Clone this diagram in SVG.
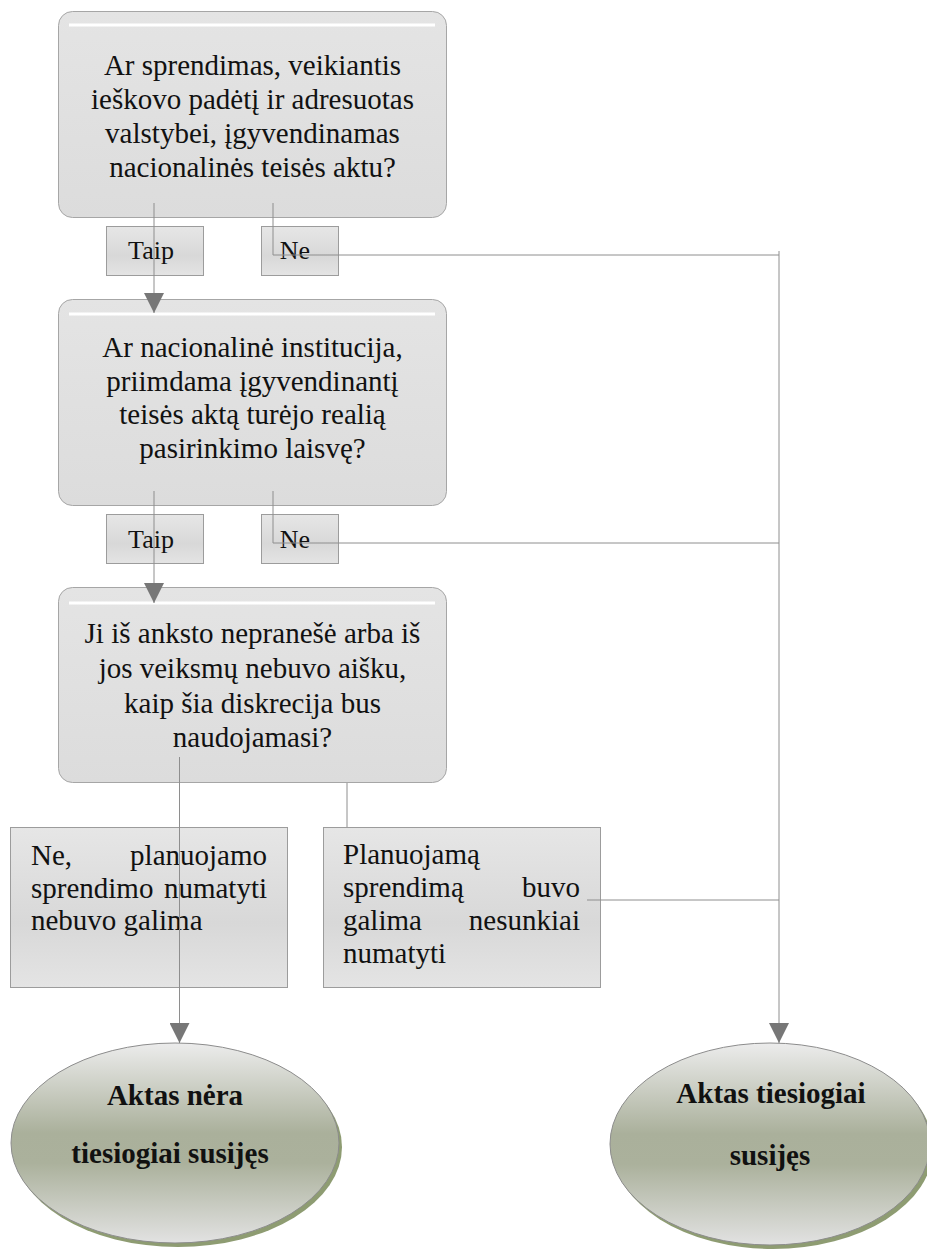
<svg xmlns="http://www.w3.org/2000/svg" width="927" height="1250" viewBox="0 0 927 1250">
<defs>
<linearGradient id="gBig" x1="0" y1="0" x2="0" y2="1">
<stop offset="0" stop-color="#e4e4e4"/>
<stop offset="1" stop-color="#dcdcdc"/>
</linearGradient>
<linearGradient id="gSmall" x1="0" y1="0" x2="0" y2="1">
<stop offset="0" stop-color="#e6e6e6"/>
<stop offset="0.6" stop-color="#d8d8d8"/>
<stop offset="1" stop-color="#e4e4e4"/>
</linearGradient>
<linearGradient id="gEll" x1="0" y1="0" x2="0" y2="1">
<stop offset="0" stop-color="#ececec"/>
<stop offset="0.45" stop-color="#aab09b"/>
<stop offset="0.6" stop-color="#abb19c"/>
<stop offset="1" stop-color="#e2e2e2"/>
</linearGradient>
<marker id="arr" markerWidth="20" markerHeight="20" refX="20" refY="10" orient="auto" markerUnits="userSpaceOnUse">
<path d="M0,0 L20,10 L0,20 z" fill="#777"/>
</marker>
</defs>
<style>
.conn{fill:none;stroke:#8e8e8e;stroke-width:1}
.big{fill:url(#gBig);stroke:#a6a6a6;stroke-width:1}
.small{fill:url(#gSmall);stroke:#9c9c9c;stroke-width:1}
.hl{stroke:#ffffff;stroke-width:3}
.ell{fill:url(#gEll);stroke:#8c8c8c;stroke-width:1}
.shadow{fill:#8e9c72}
.t{font-family:"Liberation Serif","Times New Roman",serif;font-size:29px;fill:#111}
.tc{text-anchor:middle}
.te{text-anchor:end}
.ts{font-family:"Liberation Serif","Times New Roman",serif;font-size:26px;fill:#111;text-anchor:middle}
.tb{font-family:"Liberation Serif","Times New Roman",serif;font-size:29px;font-weight:bold;fill:#111;text-anchor:middle}
</style>

<g id="q1">
<rect class="big" x="58.5" y="11.5" width="388" height="206" rx="14"/>
<line class="hl" x1="69" y1="25" x2="435" y2="25"/>
<text class="t tc" x="252.5" y="75">Ar sprendimas, veikiantis</text>
<text class="t tc" x="252.5" y="109">ieškovo padėtį ir adresuotas</text>
<text class="t tc" x="252.5" y="143">valstybei, įgyvendinamas</text>
<text class="t tc" x="252.5" y="177">nacionalinės teisės aktu?</text>
</g>

<g id="taip1">
<rect class="small" x="106.5" y="226.5" width="97" height="49"/>
<text class="ts" x="151" y="259">Taip</text>
</g>
<g id="ne1">
<rect class="small" x="261.5" y="226.5" width="77" height="49"/>
<text class="ts" x="295" y="259">Ne</text>
</g>

<g id="q2">
<rect class="big" x="58.5" y="299.5" width="388" height="206" rx="14"/>
<line class="hl" x1="69" y1="314" x2="435" y2="314"/>
<text class="t tc" x="252.5" y="357">Ar nacionalinė institucija,</text>
<text class="t tc" x="252.5" y="391">priimdama įgyvendinantį</text>
<text class="t tc" x="252.5" y="424">teisės aktą turėjo realią</text>
<text class="t tc" x="252.5" y="458">pasirinkimo laisvę?</text>
</g>

<g id="taip2">
<rect class="small" x="106.5" y="514.5" width="97" height="49"/>
<text class="ts" x="151" y="548">Taip</text>
</g>
<g id="ne2">
<rect class="small" x="261.5" y="514.5" width="77" height="49"/>
<text class="ts" x="295" y="548">Ne</text>
</g>

<g id="q3">
<rect class="big" x="58.5" y="587.5" width="388" height="195" rx="14"/>
<line class="hl" x1="69" y1="603" x2="435" y2="603"/>
<text class="t tc" x="252.5" y="643">Ji iš anksto nepranešė arba iš</text>
<text class="t tc" x="252.5" y="678">jos veiksmų nebuvo aišku,</text>
<text class="t tc" x="252.5" y="713">kaip šia diskrecija bus</text>
<text class="t tc" x="252.5" y="747">naudojamasi?</text>
</g>

<g id="ans-no">
<rect class="small" x="10.5" y="827.5" width="277" height="160"/>
<text class="t" x="31" y="865">Ne,</text>
<text class="t te" x="267" y="865">planuojamo</text>
<text class="t" x="31" y="898">sprendimo</text>
<text class="t te" x="267" y="898">numatyti</text>
<text class="t" x="31" y="930">nebuvo galima</text>
</g>

<g id="ans-yes">
<rect class="small" x="323.5" y="827.5" width="277" height="160"/>
<text class="t" x="343" y="864">Planuojamą</text>
<text class="t" x="343" y="897">sprendimą</text>
<text class="t te" x="580" y="897">buvo</text>
<text class="t" x="343" y="930">galima</text>
<text class="t te" x="580" y="930">nesunkiai</text>
<text class="t" x="343" y="963">numatyti</text>
</g>

<g id="res-not">
<ellipse class="shadow" cx="178" cy="1147" rx="164" ry="100"/>
<ellipse class="ell" cx="175" cy="1143" rx="164" ry="100"/>
<text class="tb" x="175" y="1105">Aktas nėra</text>
<text class="tb" x="170" y="1163">tiesiogiai susijęs</text>
</g>

<g id="res-yes">
<ellipse class="shadow" cx="773" cy="1148" rx="160" ry="101"/>
<ellipse class="ell" cx="770" cy="1144" rx="160" ry="101"/>
<text class="tb" x="771" y="1103">Aktas tiesiogiai</text>
<text class="tb" x="770" y="1165">susijęs</text>
</g>

<g id="connectors">
<path class="conn" d="M154,203 V313" marker-end="url(#arr)"/>
<path class="conn" d="M273,203 V255 H779"/>
<path class="conn" d="M154,491 V603" marker-end="url(#arr)"/>
<path class="conn" d="M273,491 V543 H779"/>
<path class="conn" d="M179.5,757 V1043" marker-end="url(#arr)"/>
<path class="conn" d="M347,783 V827"/>
<path class="conn" d="M587,900 H779"/>
<path class="conn" d="M779,251 V1043" stroke-width="1.5" marker-end="url(#arr)"/>
</g>
</svg>
